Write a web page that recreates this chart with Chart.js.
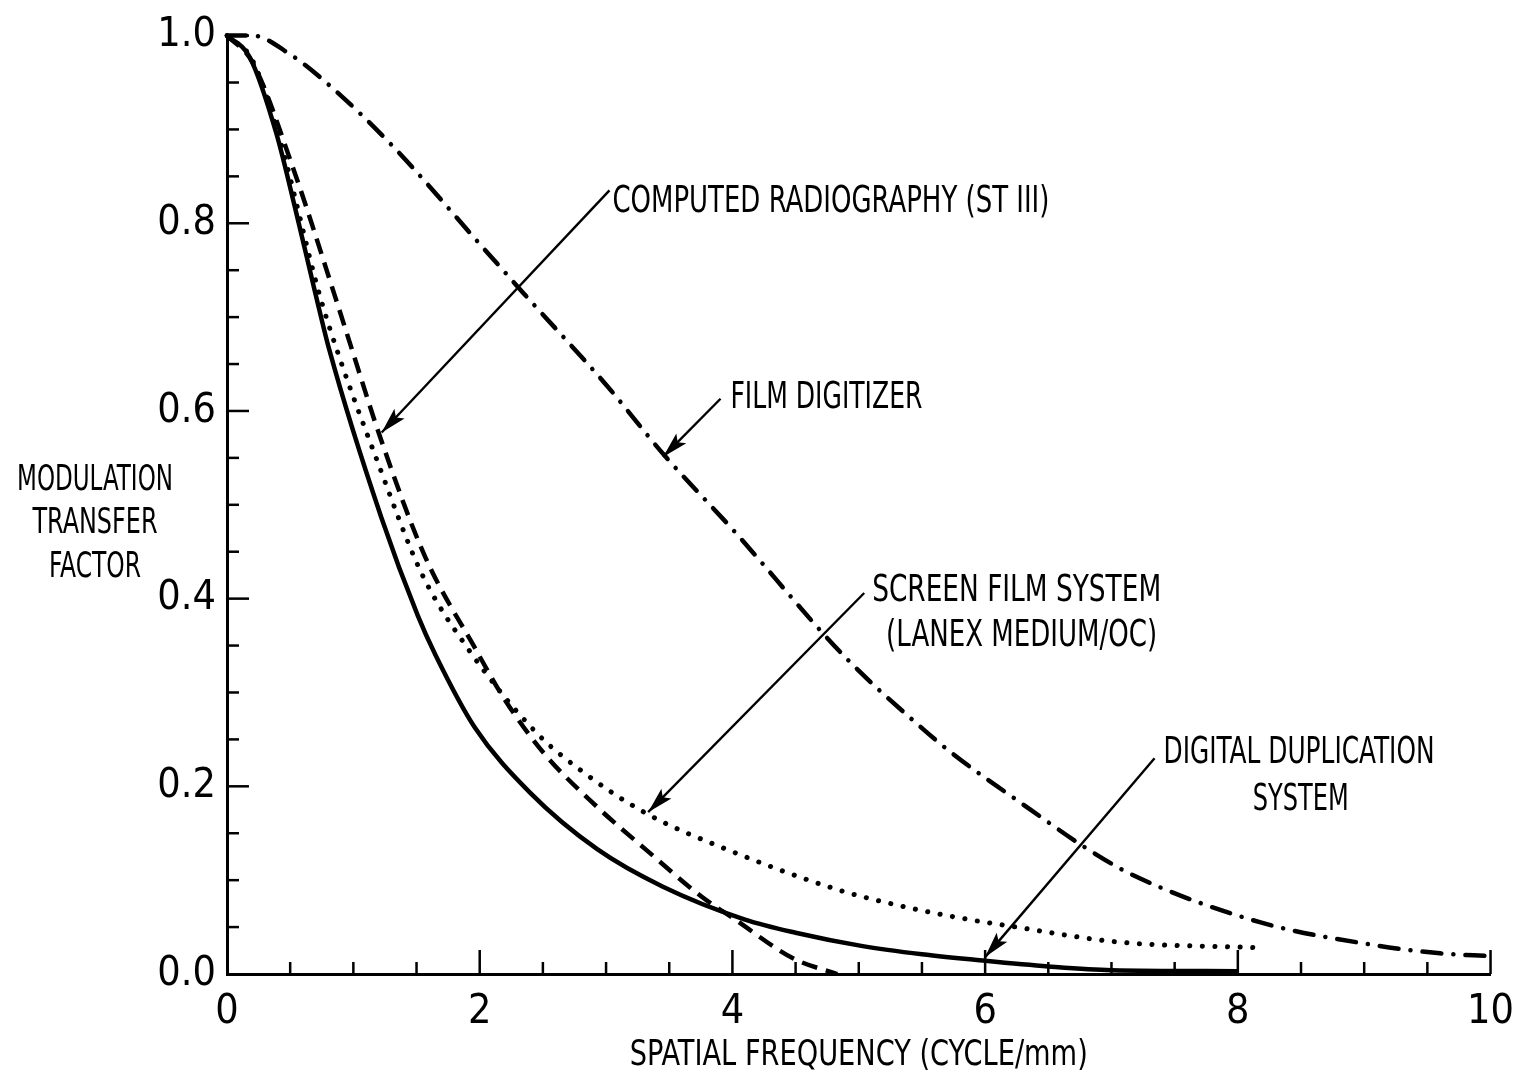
<!DOCTYPE html>
<html><head><meta charset="utf-8">
<script src="https://cdn.jsdelivr.net/npm/chart.js@4.4.0/dist/chart.umd.min.js"></script>
<style>html,body{margin:0;padding:0;background:#fff;overflow:hidden}#wrap{width:1528px;height:1085px;position:relative}</style>
</head><body>
<div id="wrap"><canvas id="c"></canvas></div>
<script>
const FONT = "'DejaVu Sans Condensed','DejaVu Sans','Liberation Sans Narrow',sans-serif";

// ---- data (spatial frequency in cycle/mm, modulation transfer factor) ----
const filmDigitizerX = [0, 0.2, 0.5, 0.81, 1.32, 2.0, 2.35, 3.0, 3.46, 4.0, 4.89, 5.5, 5.75, 6.35, 6.79, 7.16, 8.18, 9.07, 9.6, 10];
const filmDigitizerY = [1.0, 1.0, 0.98, 0.947, 0.881, 0.778, 0.725, 0.628, 0.553, 0.474, 0.338, 0.262, 0.234, 0.176, 0.135, 0.106, 0.055, 0.031, 0.022, 0.019];

const computedRadX = [0, 0.2, 0.52, 0.86, 0.99, 1.22, 1.57, 1.96, 2.2, 2.51, 2.93, 3.32, 3.76, 4.0, 4.49, 4.83];
const computedRadY = [1.0, 0.972, 0.86, 0.72, 0.665, 0.569, 0.444, 0.348, 0.292, 0.235, 0.178, 0.132, 0.082, 0.06, 0.016, 0.0];

const screenFilmX = [0, 0.2, 0.42, 0.73, 0.89, 1.18, 1.54, 1.9, 2.45, 2.82, 3.32, 3.97, 4.83, 5.22, 5.75, 6.2, 7.06, 8.16];
const screenFilmY = [1.0, 0.974, 0.888, 0.725, 0.657, 0.55, 0.427, 0.348, 0.257, 0.215, 0.171, 0.132, 0.09, 0.076, 0.061, 0.051, 0.034, 0.028];

const digitalDupX = [0, 0.18, 0.39, 0.55, 0.7, 0.81, 1.22, 1.51, 1.65, 1.96, 2.4, 2.93, 3.45, 4.1, 4.5, 5.02, 5.5, 6.0, 6.5, 7.0, 8.0];
const digitalDupY = [1.0, 0.977, 0.896, 0.81, 0.725, 0.665, 0.487, 0.382, 0.340, 0.263, 0.193, 0.133, 0.093, 0.058, 0.044, 0.03, 0.021, 0.014, 0.008, 0.004, 0.003];

const xTickValues = [0, 2, 4, 6, 8, 10];
const yTickValues = [0.0, 0.2, 0.4, 0.6, 0.8, 1.0];

const xTitle = "SPATIAL FREQUENCY (CYCLE/mm)";
const yTitleLines = ["MODULATION", "TRANSFER", "FACTOR"];

// annotation labels: text lines and where they point (in data units)
const annotations = [
  { lines: ["COMPUTED RADIOGRAPHY (ST III)"], tip: [1.224, 0.577], tail: [3.027, 0.835],
    text: [{ x: 3.05, y: 0.8115, w: 437 }] },
  { lines: ["FILM DIGITIZER"], tip: [3.451, 0.551], tail: [3.906, 0.613],
    text: [{ x: 3.984, y: 0.603, w: 192 }] },
  { lines: ["SCREEN FILM SYSTEM", "(LANEX MEDIUM/OC)"], tip: [3.333, 0.1725], tail: [5.043, 0.406],
    text: [{ x: 5.106, y: 0.398, w: 289 }, { x: 5.216, y: 0.349, w: 271 }] },
  { lines: ["DIGITAL DUPLICATION", "SYSTEM"], tip: [6.0, 0.018], tail: [7.341, 0.230],
    text: [{ x: 7.412, y: 0.2247, w: 271 }, { x: 8.118, y: 0.1747, w: 96 }] }
];

function pts(xs, ys) { return xs.map((x, i) => ({ x: x, y: ys[i] })); }

function condensedText(ctx, str, left, baseline, width, size) {
  ctx.save();
  ctx.font = 'condensed ' + size + 'px ' + FONT;
  ctx.textBaseline = 'alphabetic';
  ctx.textAlign = 'left';
  const w = ctx.measureText(str).width;
  ctx.translate(left, baseline);
  ctx.scale(width / w, 1);
  ctx.fillStyle = '#000';
  ctx.fillText(str, 0, 0);
  ctx.restore();
}

function arrow(ctx, x1, y1, x2, y2) {
  ctx.save();
  ctx.strokeStyle = '#000';
  ctx.fillStyle = '#000';
  ctx.lineWidth = 2.4;
  ctx.beginPath();
  ctx.moveTo(x1, y1);
  ctx.lineTo(x2, y2);
  ctx.stroke();
  const ang = Math.atan2(y2 - y1, x2 - x1);
  const L = 26, W = 7;
  ctx.translate(x2, y2);
  ctx.rotate(ang);
  ctx.beginPath();
  ctx.moveTo(0, 0);
  ctx.lineTo(-L, -W);
  ctx.lineTo(-L * 0.8, 0);
  ctx.lineTo(-L, W);
  ctx.closePath();
  ctx.fill();
  ctx.restore();
}

const decor = {
  id: 'decor',
  afterDraw(chart) {
    const ctx = chart.ctx;
    const xs = chart.scales.x, ys = chart.scales.y;
    const x0 = xs.getPixelForValue(0), y0 = ys.getPixelForValue(0);
    ctx.save();
    ctx.strokeStyle = '#000';
    ctx.lineCap = 'butt';
    // inward x ticks
    for (let k = 1; k <= 20; k++) {
      const v = k * 0.5;
      const major = k % 4 === 0;
      const px = xs.getPixelForValue(v);
      ctx.lineWidth = 2.5;
      ctx.beginPath();
      ctx.moveTo(px, y0);
      ctx.lineTo(px, y0 - (major ? 24 : 12));
      ctx.stroke();
    }
    // inward y ticks
    for (let k = 1; k <= 20; k++) {
      const v = k * 0.05;
      const major = k % 4 === 0;
      const py = ys.getPixelForValue(v);
      ctx.lineWidth = 2.5;
      ctx.beginPath();
      ctx.moveTo(x0, py);
      ctx.lineTo(x0 + (major ? 22 : 12), py);
      ctx.stroke();
    }
    ctx.restore();

    // annotations
    annotations.forEach(a => {
      arrow(ctx, xs.getPixelForValue(a.tail[0]), ys.getPixelForValue(a.tail[1]),
                 xs.getPixelForValue(a.tip[0]), ys.getPixelForValue(a.tip[1]));
      a.lines.forEach((s, i) => {
        const t = a.text[i];
        condensedText(ctx, s, xs.getPixelForValue(t.x), ys.getPixelForValue(t.y), t.w, 38);
      });
    });

    // axis titles
    const ca = chart.chartArea;
    const xtW = 458;
    condensedText(ctx, xTitle, (ca.left + ca.right) / 2 - xtW / 2, ca.bottom + 91, xtW, 36);
    const yW = [156, 125, 92];
    const yB = [490, 533, 577];
    yTitleLines.forEach((s, i) => {
      condensedText(ctx, s, 95 - yW[i] / 2, yB[i], yW[i], 36);
    });
  }
};

const ds = (label, xs, ys, dash, width, cap) => ({
  label: label,
  data: pts(xs, ys),
  borderColor: '#000',
  backgroundColor: '#000',
  borderWidth: width,
  borderDash: dash,
  borderCapStyle: cap,
  borderJoinStyle: 'round',
  pointRadius: 0,
  fill: false,
  cubicInterpolationMode: 'monotone',
  clip: 10
});

const tickFont = { family: FONT, size: 41, weight: 'condensed' };

new Chart(document.getElementById('c'), {
  type: 'line',
  data: {
    datasets: [
      ds('Film digitizer', filmDigitizerX, filmDigitizerY, [19, 12, 0.1, 12], 4.5, 'round'),
      ds('Computed radiography (ST III)', computedRadX, computedRadY, [16, 9], 4.5, 'butt'),
      ds('Screen film system (Lanex Medium/OC)', screenFilmX, screenFilmY, [0.1, 12.5], 5, 'round'),
      ds('Digital duplication system', digitalDupX, digitalDupY, [], 4.5, 'butt')
    ]
  },
  options: {
    responsive: true,
    maintainAspectRatio: false,
    animation: false,
    layout: { padding: { left: 0, top: 35, right: 26, bottom: 0 } },
    plugins: { legend: { display: false }, tooltip: { enabled: false }, title: { display: false } },
    scales: {
      x: {
        type: 'linear', min: 0, max: 10,
        afterFit(scale) { scale.height = 111; },
        afterBuildTicks(scale) { scale.ticks = xTickValues.map(v => ({ value: v })); },
        grid: { display: false, drawTicks: false },
        border: { display: true, color: '#000', width: 3 },
        ticks: { color: '#000', padding: 14, maxRotation: 0, font: tickFont,
                 callback: v => String(v) }
      },
      y: {
        type: 'linear', min: 0, max: 1,
        afterFit(scale) { scale.width = 227; },
        afterBuildTicks(scale) { scale.ticks = yTickValues.map(v => ({ value: v })); },
        grid: { display: false, drawTicks: false },
        border: { display: true, color: '#000', width: 3 },
        ticks: { color: '#000', padding: 11, font: tickFont,
                 callback: v => Number(v).toFixed(1) }
      }
    }
  },
  plugins: [decor]
});
</script>
</body></html>
